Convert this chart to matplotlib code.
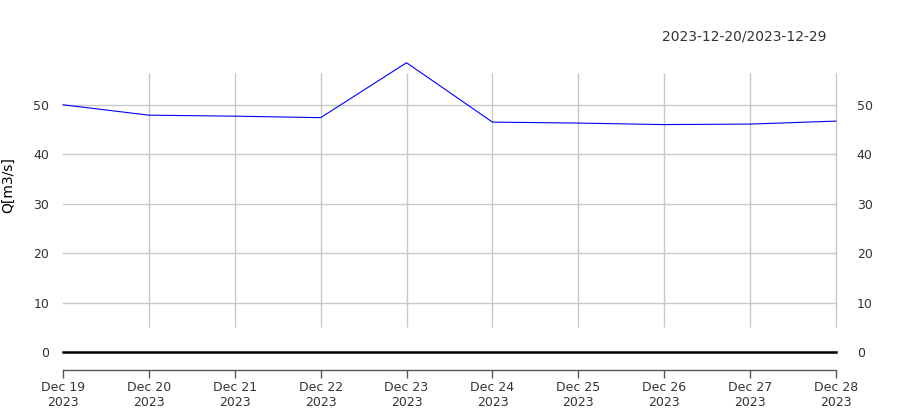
import matplotlib
matplotlib.use("Agg")
import matplotlib.pyplot as plt
import pandas as pd

# ---- data ----
dates = ["2023-12-19", "2023-12-20", "2023-12-21", "2023-12-22", "2023-12-23",
         "2023-12-24", "2023-12-25", "2023-12-26", "2023-12-27", "2023-12-28"]
flow = [50.0, 47.9, 47.7, 47.4, 58.5, 46.5, 46.3, 46.0, 46.1, 46.7]
y_ticks = [0, 10, 20, 30, 40, 50]
period_label = "2023-12-20/2023-12-29"
y_label = "Q[m3/s]"

x = pd.to_datetime(dates)

W, H = 900, 420
fig = plt.figure(figsize=(9, 4.2), dpi=100)
left, right = 63 / W, 836 / W
bottom_px, top_px = 370, 55.3
ax = fig.add_axes([left, (H - bottom_px) / H, right - left, (bottom_px - top_px) / H])

ymin, ymax = -3.6, 60
ax.set_ylim(ymin, ymax)
ax.set_xlim(x[0], x[-1])

txt = "#333333"
gridc = "#c8c8c8"

# horizontal grid lines
for v in y_ticks[1:]:
    ax.axhline(v, color=gridc, lw=1, zorder=1, clip_on=False)
# vertical grid lines (partial)
ax.vlines(x[1:], 5, 56.4, color=gridc, lw=1, zorder=1, clip_on=False)
# zero line
ax.axhline(0, color="black", lw=1.8, zorder=2, clip_on=False)

ax.plot(x, flow, color="#0000ff", lw=0.8, zorder=3, clip_on=False)

for s in ["top", "left", "right"]:
    ax.spines[s].set_visible(False)
ax.spines["bottom"].set_color("#555555")
ax.spines["bottom"].set_linewidth(1)

ax.set_xticks(x)
ax.set_xticklabels([d.strftime("%b %d") + "\n" + d.strftime("%Y") for d in x],
                   fontsize=9, color=txt, linespacing=1.2)
ax.tick_params(axis="x", direction="out", length=6, width=1, color="#555555", pad=2)

ax.set_yticks(y_ticks)
ax.set_yticklabels([str(v) for v in y_ticks], fontsize=9, color=txt)
ax.tick_params(axis="y", length=0, pad=10)

ax2 = ax.twinx()
ax2.set_ylim(ymin, ymax)
ax2.set_yticks(y_ticks)
ax2.set_yticklabels([str(v) for v in y_ticks], fontsize=9, color=txt)
ax2.tick_params(axis="y", length=0, pad=15)
for s in ax2.spines.values():
    s.set_visible(False)

fig.text(8 / W, 1 - 185 / H, y_label, rotation=90, ha="center", va="center",
         fontsize=10, color="black")
fig.text(744 / W, 1 - 37 / H, period_label, ha="center", va="center",
         fontsize=10, color=txt)

fig.savefig("out.png", dpi=100)
